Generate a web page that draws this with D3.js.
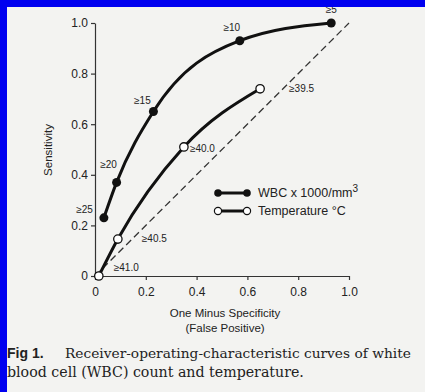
<!DOCTYPE html>
<html>
<head>
<meta charset="utf-8">
<script src="https://cdn.jsdelivr.net/npm/d3@7"></script>
<style>
  body { margin: 0; background: #0000f0; }
  svg { display: block; }
  text { font-family: "Liberation Sans", Arial, sans-serif; fill: #222; }
</style>
</head>
<body>
<div id="chart"></div>
<script>
// data
const wbcFP   = [0.035, 0.085, 0.23, 0.57, 0.93]
const wbcSens = [0.23, 0.37, 0.65, 0.93, 1.0]
const wbcLabels = ["≥25", "≥20", "≥15", "≥10", "≥5"]

const tempFP   = [0.015, 0.09, 0.35, 0.65]
const tempSens = [0.0, 0.146, 0.51, 0.74]
const tempLabels = ["≥41.0", "≥40.5", "≥40.0", "≥39.5"]

const ticks = [0, 0.2, 0.4, 0.6, 0.8, 1.0]

const W = 425, H = 392

svg = d3.select('#chart').append('svg')
  .attr('width', W)
  .attr('height', H)

// paper
svg.append('rect')
  .attr('x', 0).attr('y', 0).attr('width', W).attr('height', H)
  .attr('fill', '#f3f3f1')

x = d3.scaleLinear().domain([0, 1]).range([95, 349])
y = d3.scaleLinear().domain([0, 1]).range([276, 23])

const fmt = d => d === 0 ? "0" : d3.format(".1f")(d)

let xAxis = svg.append('g')
  .attr('transform', `translate(0,${y(0)})`)
  .call(d3.axisBottom(x).tickValues(ticks).tickFormat(fmt).tickSize(4).tickSizeOuter(0))
let yAxis = svg.append('g')
  .attr('transform', `translate(${x(0)},0)`)
  .call(d3.axisLeft(y).tickValues(ticks).tickFormat(fmt).tickSize(4).tickSizeOuter(0))

for (let ax of [xAxis, yAxis]) {
  ax.select('.domain').attr('stroke', '#333').attr('stroke-width', 1.2)
  ax.selectAll('.tick line').attr('stroke', '#333').attr('stroke-width', 1.2)
  ax.selectAll('.tick text').attr('font-size', 12).attr('fill', '#333')
    .style('font-family', '"Liberation Sans", Arial, sans-serif')
}
xAxis.selectAll('.tick text').attr('dy', '1.1em')
yAxis.selectAll('.tick text').attr('x', -7)

// chance diagonal
svg.append('line')
  .attr('x1', x(0)).attr('y1', y(0))
  .attr('x2', x(1)).attr('y2', y(1))
  .attr('stroke', '#333').attr('stroke-width', 1.3)
  .attr('stroke-dasharray', '7,4')

const wbc = wbcFP.map((v, i) => ({fp: v, sens: wbcSens[i], label: wbcLabels[i]}))
const temp = tempFP.map((v, i) => ({fp: v, sens: tempSens[i], label: tempLabels[i]}))

const line = d3.line()
  .x(d => x(d.fp))
  .y(d => y(d.sens))
  .curve(d3.curveMonotoneX)

svg.append('path').datum(wbc)
  .attr('d', line)
  .attr('fill', 'none').attr('stroke', '#111').attr('stroke-width', 3)
svg.append('path').datum(temp)
  .attr('d', line)
  .attr('fill', 'none').attr('stroke', '#111').attr('stroke-width', 3)

svg.selectAll('circle.wbc')
  .data(wbc)
  .join('circle')
    .attr('class', 'wbc')
    .attr('cx', d => x(d.fp))
    .attr('cy', d => y(d.sens))
    .attr('r', 4.5)
    .attr('fill', '#111')

svg.selectAll('circle.temp')
  .data(temp)
  .join('circle')
    .attr('class', 'temp')
    .attr('cx', d => x(d.fp))
    .attr('cy', d => y(d.sens))
    .attr('r', 4.2)
    .attr('fill', '#fff')
    .attr('stroke', '#111').attr('stroke-width', 1.3)

// point label offsets (px)
const wbcOff = [[-11, -5, 'end'], [-8, -14, 'middle'], [-11, -8, 'middle'], [-8, -10, 'middle'], [0, -10, 'middle']]
const tempOff = [[15, -5, 'start'], [24, 3, 'start'], [6, 5, 'start'], [29, 3, 'start']]

svg.selectAll('text.wbcl')
  .data(wbc)
  .join('text')
    .attr('class', 'wbcl')
    .attr('x', (d, i) => x(d.fp) + wbcOff[i][0])
    .attr('y', (d, i) => y(d.sens) + wbcOff[i][1])
    .attr('text-anchor', (d, i) => wbcOff[i][2])
    .attr('font-size', 10)
    .text(d => d.label)

svg.selectAll('text.templ')
  .data(temp)
  .join('text')
    .attr('class', 'templ')
    .attr('x', (d, i) => x(d.fp) + tempOff[i][0])
    .attr('y', (d, i) => y(d.sens) + tempOff[i][1])
    .attr('text-anchor', (d, i) => tempOff[i][2])
    .attr('font-size', 10)
    .text(d => d.label)

// legend
let legend = svg.append('g')
legend.append('line').attr('x1', 218).attr('x2', 247).attr('y1', 193).attr('y2', 193)
  .attr('stroke', '#111').attr('stroke-width', 3)
legend.selectAll('circle.lw').data([218, 247]).join('circle')
  .attr('class', 'lw').attr('cx', d => d).attr('cy', 193).attr('r', 3.8).attr('fill', '#111')
legend.append('text').attr('x', 258).attr('y', 197).attr('font-size', 12.5)
  .html('WBC x 1000/mm<tspan dy="-5" font-size="10">3</tspan>')

legend.append('line').attr('x1', 218).attr('x2', 247).attr('y1', 211).attr('y2', 211)
  .attr('stroke', '#111').attr('stroke-width', 3)
legend.selectAll('circle.lt').data([218, 247]).join('circle')
  .attr('class', 'lt').attr('cx', d => d).attr('cy', 211).attr('r', 3.6)
  .attr('fill', '#fff').attr('stroke', '#111').attr('stroke-width', 1.2)
legend.append('text').attr('x', 258).attr('y', 215).attr('font-size', 12.5)
  .text('Temperature °C')

// axis titles
svg.append('text')
  .attr('transform', 'translate(52,150) rotate(-90)')
  .attr('text-anchor', 'middle')
  .attr('font-size', 11.5)
  .text('Sensitivity')

svg.append('text')
  .attr('x', 225).attr('y', 317)
  .attr('text-anchor', 'middle').attr('font-size', 11.5)
  .text('One Minus Specificity')
svg.append('text')
  .attr('x', 225).attr('y', 332)
  .attr('text-anchor', 'middle').attr('font-size', 11.5)
  .text('(False Positive)')

// caption
svg.append('text')
  .attr('x', 7).attr('y', 358)
  .attr('font-size', 14).attr('font-weight', 'bold')
  .attr('fill', '#111')
  .text('Fig 1.')

// fit caption lines to the widths seen in the scan, by font size
function fitText(t, width) {
  let fs = 14
  t.attr('font-size', fs)
  let w = t.node().getComputedTextLength()
  t.attr('font-size', (fs * width / w).toFixed(2))
}
let cap1 = svg.append('text')
  .attr('x', 65).attr('y', 358)
  .style('font-family', '"DejaVu Serif", serif')
  .attr('fill', '#111')
  .text('Receiver-operating-characteristic curves of white')
fitText(cap1, 346)
let cap2 = svg.append('text')
  .attr('x', 7).attr('y', 377)
  .style('font-family', '"DejaVu Serif", serif')
  .attr('fill', '#111')
  .text('blood cell (WBC) count and temperature.')
fitText(cap2, 297)

// scanner border
svg.append('rect').attr('x', 0).attr('y', 0).attr('width', W).attr('height', 7).attr('fill', '#0000f0')
svg.append('rect').attr('x', 0).attr('y', 0).attr('width', 7).attr('height', H).attr('fill', '#0000f0')
</script>
</body>
</html>
